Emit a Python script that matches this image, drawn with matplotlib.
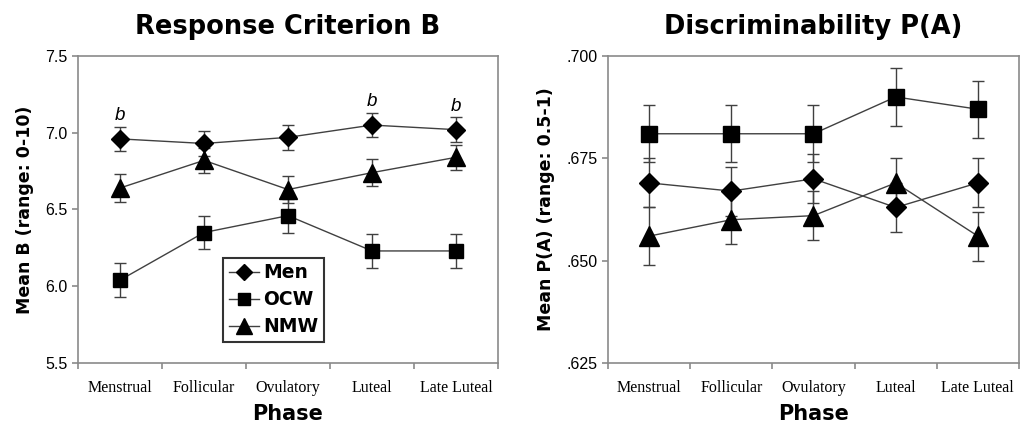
#!/usr/bin/env python3
"""Response criterion B and discriminability P(A) across menstrual phases."""

import matplotlib
matplotlib.use("Agg")
import matplotlib.pyplot as plt
from matplotlib.ticker import FixedLocator, FuncFormatter
from matplotlib.lines import Line2D

# ── Data ─────────────────────────────────────────────────────────────────────
phases = ["Menstrual", "Follicular", "Ovulatory", "Luteal", "Late Luteal"]
groups = ["Men", "OCW", "NMW"]

b_men     = [6.96, 6.93, 6.97, 7.05, 7.02]
b_men_err = [0.08, 0.08, 0.08, 0.08, 0.08]
b_ocw     = [6.04, 6.35, 6.46, 6.23, 6.23]
b_ocw_err = [0.11, 0.11, 0.11, 0.11, 0.11]
b_nmw     = [6.64, 6.82, 6.63, 6.74, 6.84]
b_nmw_err = [0.09, 0.08, 0.09, 0.09, 0.08]
b_sig     = ["b", "", "", "b", "b"]

pa_men     = [0.669, 0.667, 0.670, 0.663, 0.669]
pa_men_err = [0.006, 0.006, 0.006, 0.006, 0.006]
pa_ocw     = [0.681, 0.681, 0.681, 0.690, 0.687]
pa_ocw_err = [0.007, 0.007, 0.007, 0.007, 0.007]
pa_nmw     = [0.656, 0.660, 0.661, 0.669, 0.656]
pa_nmw_err = [0.007, 0.006, 0.006, 0.006, 0.006]

b_ticks  = [5.5, 6.0, 6.5, 7.0, 7.5]
pa_ticks = [0.625, 0.650, 0.675, 0.700]

# ── Style ────────────────────────────────────────────────────────────────────
MARKERS = {"Men": ("D", 9.0), "OCW": ("s", 10.0), "NMW": ("^", 13.0)}
LINE_C  = "#404040"
SPINE_C = "#8a8a8a"
BOLD    = "DejaVu Sans"
SERIF   = "Liberation Serif"
SANS    = "Liberation Sans"


def draw_panel(ax, series, ylim, yticks, yfmt, title, ylabel, msize_scale=1.0):
    x = list(range(len(phases)))
    for name, (vals, errs) in zip(groups, series):
        m, ms = MARKERS[name]
        ax.errorbar(x, vals, yerr=errs, color=LINE_C, lw=1.0,
                    marker=m, ms=ms * msize_scale, mfc="black", mec="black",
                    ecolor=LINE_C, elinewidth=1.0, capsize=4, capthick=1.0,
                    zorder=3)
    ax.set_xlim(-0.5, len(phases) - 0.5)
    ax.set_ylim(*ylim)
    ax.xaxis.set_major_locator(FixedLocator([i - 0.5 for i in range(len(phases) + 1)]))
    ax.xaxis.set_major_formatter(FuncFormatter(lambda v, p: ""))
    ax.xaxis.set_minor_locator(FixedLocator(x))
    ax.set_xticklabels(phases, minor=True, family=SERIF, fontsize=11.5)
    ax.tick_params(axis="x", which="minor", length=0, pad=12)
    ax.tick_params(axis="x", which="major", length=4, color=SPINE_C, width=1.2)
    ax.set_yticks(yticks)
    ax.yaxis.set_major_formatter(FuncFormatter(yfmt))
    ax.tick_params(axis="y", length=4, color=SPINE_C, width=1.2, labelsize=11.5)
    for lab in ax.get_yticklabels():
        lab.set_family(SANS)
    for s in ax.spines.values():
        s.set_color(SPINE_C)
        s.set_linewidth(1.2)
    ax.set_title(title, family=BOLD, fontweight="bold", fontsize=18.5, pad=16)
    ax.set_xlabel("Phase", family=BOLD, fontweight="bold", fontsize=15, labelpad=6)
    ax.set_ylabel(ylabel, family=BOLD, fontweight="bold", fontsize=12.5, labelpad=8)


fig = plt.figure(figsize=(10.21, 4.30), dpi=100)
ax1 = fig.add_axes([0.0764, 0.1558, 0.4114, 0.714])
ax2 = fig.add_axes([0.5955, 0.1558, 0.4025, 0.714])

draw_panel(ax1,
           [(b_men, b_men_err), (b_ocw, b_ocw_err), (b_nmw, b_nmw_err)],
           (5.5, 7.5), b_ticks, lambda v, p: f"{v:.1f}",
           "Response Criterion B", "Mean B (range: 0-10)")

for i, s in enumerate(b_sig):
    if s:
        ax1.annotate(s, (i, b_men[i] + b_men_err[i]), xytext=(0, 2),
                     textcoords="offset points", ha="center", va="bottom",
                     family=SANS, style="italic", fontsize=13.5)

handles = [Line2D([], [], color=LINE_C, lw=1.0, marker=MARKERS[g][0],
                  ms=MARKERS[g][1] * 0.85, mfc="black", mec="black") for g in groups]
leg = ax1.legend(handles, groups, loc="upper left", bbox_to_anchor=(0.345, 0.343),
                 frameon=True, fancybox=False, handlelength=1.6, handletextpad=0.25,
                 borderpad=0.3, labelspacing=0.42, borderaxespad=0,
                 prop={"family": BOLD, "weight": "bold", "size": 13.5})
leg.get_frame().set_edgecolor("black")
leg.get_frame().set_linewidth(1.5)

draw_panel(ax2,
           [(pa_men, pa_men_err), (pa_ocw, pa_ocw_err), (pa_nmw, pa_nmw_err)],
           (0.625, 0.700), pa_ticks, lambda v, p: f"{v:.3f}".lstrip("0"),
           "Discriminability P(A)", "Mean P(A) (range: 0.5-1)", msize_scale=1.1)

fig.savefig("out.png", dpi=100)
